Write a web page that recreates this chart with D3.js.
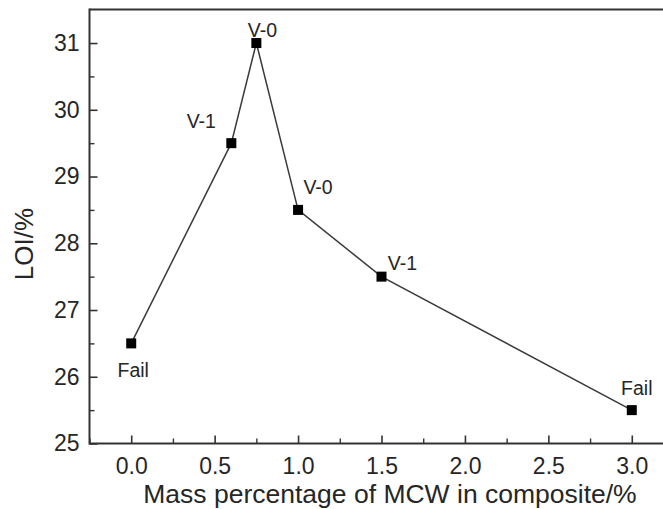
<!DOCTYPE html>
<html>
<head>
<meta charset="utf-8">
<script src="https://cdn.jsdelivr.net/npm/d3@7"></script>
<style>
  html, body { margin: 0; padding: 0; background: #fff; }
  svg { display: block; font-family: "Liberation Sans", Arial, sans-serif; }
</style>
</head>
<body>
<svg id="chart" width="663" height="509"></svg>
<script>
// ---- data ----
const mcwContent = [0.0, 0.6, 0.75, 1.0, 1.5, 3.0];
const loiValues = [26.5, 29.5, 31.0, 28.5, 27.5, 25.5];
const ulRatings = ["Fail", "V-1", "V-0", "V-0", "V-1", "Fail"];
const xTickValues = [0.0, 0.5, 1.0, 1.5, 2.0, 2.5, 3.0];
const yTickValues = [25, 26, 27, 28, 29, 30, 31];
const xTitle = "Mass percentage of MCW in composite/%";
const yTitle = "LOI/%";

// ---- layout ----
const svg = d3.select("#chart");
const pLeft = 89.5, pTop = 9.5, pBottom = 443.5, pRight = 673.5;
const x = d3.scaleLinear().domain([-0.25, 3.25]).range([pLeft, pRight]);
const y = d3.scaleLinear().domain([25, 31.5]).range([pBottom, pTop + 0.17]);
const axisColor = "#333";
const textColor = "#262626";

// label offsets (center x, baseline y) relative to each point
const labelOffsets = [[2, 34], [-30, -15], [6, -6], [20, -16], [21, -7], [5, -15]];

// frame
svg.append("line").attr("x1", pLeft).attr("x2", 663).attr("y1", pTop).attr("y2", pTop)
  .attr("stroke", axisColor).attr("stroke-width", 2);

// x axis
const xMinor = d3.range(-0.25, 3.26, 0.25).filter(v => !xTickValues.some(t => Math.abs(t - v) < 1e-6));
const gx = svg.append("g").attr("transform", `translate(0,${pBottom})`);
gx.call(d3.axisBottom(x).tickValues(xTickValues).tickSize(-8).tickPadding(11)
  .tickFormat(d3.format(".1f")));
gx.select(".domain").remove();
gx.selectAll(".tick line").attr("stroke", axisColor).attr("stroke-width", 1.6);
gx.selectAll(".tick text").attr("fill", textColor).attr("font-size", 23)
  .attr("font-family", "Liberation Sans, Arial, sans-serif").attr("dy", "0.85em");
const gxm = svg.append("g").attr("transform", `translate(0,${pBottom})`);
gxm.call(d3.axisBottom(x).tickValues(xMinor).tickSize(-5).tickFormat(""));
gxm.select(".domain").remove();
gxm.selectAll(".tick line").attr("stroke", axisColor).attr("stroke-width", 1.4);
svg.append("line").attr("x1", pLeft).attr("x2", 663).attr("y1", pBottom).attr("y2", pBottom)
  .attr("stroke", axisColor).attr("stroke-width", 2);

// y axis
const yMinor = d3.range(25.5, 31.5, 1);
const gy = svg.append("g").attr("transform", `translate(${pLeft},0)`);
gy.call(d3.axisLeft(y).tickValues(yTickValues).tickSize(-8).tickPadding(10).tickFormat(d3.format("d")));
gy.select(".domain").remove();
gy.selectAll(".tick line").attr("stroke", axisColor).attr("stroke-width", 1.6);
gy.selectAll(".tick text").attr("fill", textColor).attr("font-size", 23)
  .attr("font-family", "Liberation Sans, Arial, sans-serif");
const gym = svg.append("g").attr("transform", `translate(${pLeft},0)`);
gym.call(d3.axisLeft(y).tickValues(yMinor).tickSize(-5).tickFormat(""));
gym.select(".domain").remove();
gym.selectAll(".tick line").attr("stroke", axisColor).attr("stroke-width", 1.4);
svg.append("line").attr("x1", pLeft).attr("x2", pLeft).attr("y1", pTop - 1).attr("y2", pBottom + 1)
  .attr("stroke", axisColor).attr("stroke-width", 2);

// axis titles
svg.append("text").attr("x", 390).attr("y", 503).attr("text-anchor", "middle")
  .attr("font-size", 26.5).attr("fill", textColor).text(xTitle);
svg.append("text").attr("transform", "translate(33,244) rotate(-90)").attr("text-anchor", "middle")
  .attr("font-size", 26).attr("fill", textColor).text(yTitle);

// data
const pts = mcwContent.map((v, i) => ({ x: v, y: loiValues[i], label: ulRatings[i], i }));
svg.append("path").datum(pts)
  .attr("d", d3.line().x(d => x(d.x)).y(d => y(d.y)))
  .attr("fill", "none").attr("stroke", "#3a3a3a").attr("stroke-width", 1.5);
const ms = 10;
svg.selectAll("rect.pt").data(pts).enter().append("rect").attr("class", "pt")
  .attr("x", d => x(d.x) - ms / 2).attr("y", d => y(d.y) - ms / 2)
  .attr("width", ms).attr("height", ms).attr("fill", "#000");
svg.selectAll("text.lbl").data(pts).enter().append("text").attr("class", "lbl")
  .attr("x", d => x(d.x) + labelOffsets[d.i][0]).attr("y", d => y(d.y) + labelOffsets[d.i][1])
  .attr("text-anchor", "middle").attr("font-size", 19.5).attr("fill", textColor)
  .text(d => d.label);
</script>
</body>
</html>
